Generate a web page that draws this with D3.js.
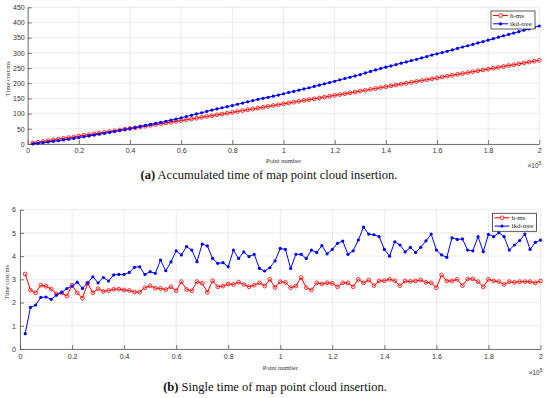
<!DOCTYPE html>
<html><head><meta charset="utf-8">
<script src="https://cdn.jsdelivr.net/npm/d3@7"></script>
<style>body{margin:0;background:#fff;} svg{display:block;}</style>
</head><body>
<svg id="c" width="550" height="398"></svg>
<script>
// Point number (x 10^5)
const pointNumber = [0.02,0.04,0.06,0.08,0.10,0.12,0.14,0.16,0.18,0.20,
0.22,0.24,0.26,0.28,0.30,0.32,0.34,0.36,0.38,0.40,
0.42,0.44,0.46,0.48,0.50,0.52,0.54,0.56,0.58,0.60,
0.62,0.64,0.66,0.68,0.70,0.72,0.74,0.76,0.78,0.80,
0.82,0.84,0.86,0.88,0.90,0.92,0.94,0.96,0.98,1.00,
1.02,1.04,1.06,1.08,1.10,1.12,1.14,1.16,1.18,1.20,
1.22,1.24,1.26,1.28,1.30,1.32,1.34,1.36,1.38,1.40,
1.42,1.44,1.46,1.48,1.50,1.52,1.54,1.56,1.58,1.60,
1.62,1.64,1.66,1.68,1.70,1.72,1.74,1.76,1.78,1.80,
1.82,1.84,1.86,1.88,1.90,1.92,1.94,1.96,1.98,2.00];

// (a) accumulated time, ms
const hmsAccum = [3.2,5.8,8.2,10.9,13.6,16.2,18.6,21.0,23.3,26.0,
28.5,30.7,33.5,35.9,38.5,41.0,43.5,46.1,48.7,51.2,
53.7,56.2,58.6,61.3,64.0,66.6,69.2,71.8,74.4,77.0,
79.9,82.4,84.9,87.8,90.7,93.1,96.0,98.7,101.4,104.2,
107.0,109.9,112.7,115.3,118.1,120.9,123.7,126.7,129.3,132.2,
135.1,137.7,140.4,143.5,146.1,148.7,151.5,154.3,157.2,160.0,
162.7,165.5,168.4,171.1,174.1,176.9,179.9,182.6,185.6,188.5,
191.5,194.4,197.2,200.1,203.0,205.9,208.9,211.8,214.6,217.3,
220.5,223.4,226.3,229.3,232.0,235.1,238.1,241.0,243.7,246.7,
249.6,252.5,255.3,258.2,261.0,263.9,266.8,269.7,272.6,275.5];
const ikdAccum = [0.7,2.5,4.3,6.6,8.8,10.9,13.3,15.7,18.3,21.0,
23.9,26.5,29.4,32.5,35.3,38.4,41.3,44.5,47.7,50.9,
54.2,57.8,61.3,64.5,67.8,71.1,74.9,78.3,82.0,86.3,
90.3,94.7,99.0,102.8,107.3,111.7,115.6,119.3,123.0,126.6,
130.8,134.7,138.9,142.9,147.0,150.4,153.8,157.3,161.1,165.4,
169.7,173.2,177.3,181.3,185.2,189.5,193.7,198.1,202.2,206.5,
211.1,215.7,219.8,224.0,228.7,234.0,238.9,243.8,248.7,253.0,
257.0,261.6,266.1,270.2,274.6,278.8,283.2,287.8,292.8,297.0,
301.1,305.0,309.8,314.5,319.3,323.5,327.8,332.6,336.8,341.7,
346.6,351.6,356.4,360.7,365.2,369.8,374.8,379.1,383.7,388.4];

// (b) single time, ms
const hmsSingle = [3.23,2.54,2.42,2.75,2.70,2.58,2.37,2.42,2.28,2.75,
2.42,2.19,2.83,2.42,2.60,2.48,2.52,2.57,2.58,2.54,
2.52,2.45,2.45,2.64,2.72,2.62,2.61,2.56,2.68,2.51,
2.90,2.56,2.51,2.90,2.83,2.44,2.94,2.68,2.71,2.80,
2.78,2.88,2.78,2.68,2.75,2.85,2.71,3.00,2.65,2.90,
2.87,2.64,2.71,3.08,2.64,2.54,2.85,2.80,2.85,2.83,
2.68,2.85,2.85,2.68,3.00,2.85,2.97,2.73,2.93,2.94,
3.00,2.94,2.73,2.93,2.91,2.93,2.97,2.87,2.85,2.64,
3.19,2.93,2.93,3.00,2.73,3.02,3.02,2.90,2.68,3.00,
2.93,2.90,2.78,2.90,2.87,2.90,2.90,2.90,2.85,2.93];
const ikdSingle = [0.66,1.79,1.89,2.22,2.24,2.14,2.32,2.44,2.60,2.71,
2.88,2.61,2.85,3.11,2.85,3.08,2.93,3.19,3.21,3.21,
3.30,3.52,3.54,3.21,3.33,3.26,3.83,3.37,3.75,4.23,
4.05,4.41,4.26,3.76,4.52,4.44,3.90,3.69,3.72,3.54,
4.26,3.90,4.18,3.98,4.08,3.47,3.36,3.50,3.80,4.33,
4.29,3.47,4.08,4.08,3.90,4.26,4.16,4.45,4.10,4.29,
4.55,4.65,4.08,4.23,4.69,5.25,4.95,4.92,4.84,4.29,
4.00,4.62,4.48,4.18,4.38,4.16,4.38,4.66,4.95,4.26,
4.05,3.95,4.79,4.72,4.74,4.26,4.23,4.84,4.19,4.94,
4.84,5.01,4.84,4.26,4.48,4.67,4.95,4.29,4.59,4.69];

const seriesNames = ["h-ms", "ikd-tree"];
const xTicks = [0,0.2,0.4,0.6,0.8,1,1.2,1.4,1.6,1.8,2];
const xTickLabels = ["0","0.2","0.4","0.6","0.8","1","1.2","1.4","1.6","1.8","2"];
const yTicksTop = [0,50,100,150,200,250,300,350,400,450];
const yTicksBottom = [0,1,2,3,4,5,6];
const yTitle = "Time cost/ms";
const xTitle = "Point number";
const captionTags = ["(a)", "(b)"];
const captionTexts = [" Accumulated time of map point cloud insertion.", " Single time of map point cloud insertion."];

const svg = d3.select("#c");
const RED = "#ff0000", BLUE = "#0000ff";
const SANS = "Liberation Sans, Arial, sans-serif";
const SERIF = "Liberation Serif, Times New Roman, serif";

function panel(cfg) {
  const x = d3.scaleLinear().domain([0, 2]).range([cfg.x0, cfg.x1]);
  const y = d3.scaleLinear().domain([0, cfg.yMax]).range([cfg.y0, cfg.y1]);
  const g = svg.append("g");

  // grid
  g.append("g").selectAll("line").data(xTicks).join("line")
    .attr("x1", d => x(d)).attr("x2", d => x(d))
    .attr("y1", cfg.y0).attr("y2", cfg.y1)
    .attr("stroke", "#e3e3e3").attr("stroke-width", 0.7);
  g.append("g").selectAll("line").data(cfg.yTicks).join("line")
    .attr("x1", cfg.x0).attr("x2", cfg.x1)
    .attr("y1", d => y(d)).attr("y2", d => y(d))
    .attr("stroke", "#e3e3e3").attr("stroke-width", 0.7);

  // axes
  const xa = g.append("g").attr("transform", `translate(0,${cfg.y0})`)
    .call(d3.axisBottom(x).tickValues(xTicks).tickFormat((d, i) => xTickLabels[i])
      .tickSizeInner(-4).tickSizeOuter(0).tickPadding(cfg.xPad));
  const ya = g.append("g").attr("transform", `translate(${cfg.x0},0)`)
    .call(d3.axisLeft(y).tickValues(cfg.yTicks).tickFormat(d3.format("d"))
      .tickSizeInner(-4).tickSizeOuter(0).tickPadding(cfg.yPad));
  [xa, ya].forEach(a => {
    a.select(".domain").attr("stroke", "#555").attr("stroke-width", 0.8);
    a.selectAll(".tick line").attr("stroke", "#555").attr("stroke-width", 0.8);
    a.selectAll("text").attr("font-family", SANS).attr("font-size", 7).attr("fill", "#333");
  });

  // titles
  g.append("text").attr("x", (cfg.x0 + cfg.x1) / 2).attr("y", cfg.y0 + cfg.xTitleDy)
    .attr("text-anchor", "middle").attr("font-family", SERIF).attr("font-size", 6.5)
    .attr("fill", "#333").text(xTitle);
  g.append("text").attr("transform", `translate(${cfg.yTitleX},${(cfg.y0 + cfg.y1) / 2 + 3}) rotate(-90)`)
    .attr("text-anchor", "middle").attr("font-family", SERIF).attr("font-size", 6.5)
    .attr("fill", "#333").text(yTitle);
  const ex = g.append("text").attr("x", cfg.x1 + 2).attr("y", cfg.y0 + cfg.xTitleDy + 5)
    .attr("text-anchor", "end").attr("font-family", SANS).attr("font-size", 6.5).attr("fill", "#333");
  ex.append("tspan").text("\u00d710");
  ex.append("tspan").attr("dy", -3).attr("font-size", 5).text("5");

  // series
  const line = d3.line().x((d, i) => x(pointNumber[i])).y(d => y(d));
  g.append("path").datum(cfg.red).attr("d", line).attr("fill", "none")
    .attr("stroke", RED).attr("stroke-width", 1);
  g.append("g").selectAll("circle").data(cfg.red).join("circle")
    .attr("cx", (d, i) => x(pointNumber[i])).attr("cy", d => y(d)).attr("r", 1.9)
    .attr("fill", "none").attr("stroke", RED).attr("stroke-width", 0.8);
  g.append("path").datum(cfg.blue).attr("d", line).attr("fill", "none")
    .attr("stroke", BLUE).attr("stroke-width", 1);
  g.append("g").selectAll("circle").data(cfg.blue).join("circle")
    .attr("cx", (d, i) => x(pointNumber[i])).attr("cy", d => y(d)).attr("r", 1.6)
    .attr("fill", BLUE);

  // legend
  const L = g.append("g").attr("transform", `translate(${cfg.legX},${cfg.legY})`);
  L.append("rect").attr("width", 44).attr("height", 18).attr("fill", "#fff")
    .attr("stroke", "#333").attr("stroke-width", 0.8);
  [[RED, seriesNames[0]], [BLUE, seriesNames[1]]].forEach(([c, name], k) => {
    const yy = 4.5 + k * 8.3;
    L.append("line").attr("x1", 2).attr("x2", 17).attr("y1", yy).attr("y2", yy)
      .attr("stroke", c).attr("stroke-width", 1);
    if (k === 0) L.append("circle").attr("cx", 9.5).attr("cy", yy).attr("r", 1.9)
      .attr("fill", "#fff").attr("stroke", c).attr("stroke-width", 0.8);
    else L.append("circle").attr("cx", 9.5).attr("cy", yy).attr("r", 1.6).attr("fill", c);
    L.append("text").attr("x", 19).attr("y", yy + 2.3).attr("font-family", SERIF)
      .attr("font-size", 7).attr("fill", "#222").text(name);
  });

  // caption
  const cap = svg.append("text").attr("x", cfg.capX).attr("y", cfg.capY)
    .attr("text-anchor", "middle").attr("font-family", SERIF).attr("font-size", 12.5).attr("fill", "#111");
  cap.append("tspan").attr("font-weight", "bold").text(cfg.tag);
  cap.append("tspan").text(cfg.caption);
}

panel({x0: 27.7, x1: 539.3, y0: 144, y1: 7.3, yMax: 450, yTicks: yTicksTop,
  xPad: 4, yPad: 3, xTitleDy: 19, yTitleX: 9.5,
  red: hmsAccum, blue: ikdAccum, legX: 491, legY: 11,
  capX: 269, capY: 179, tag: captionTags[0], caption: captionTexts[0]});

panel({x0: 20, x1: 540.5, y0: 349, y1: 209.7, yMax: 6, yTicks: yTicksBottom,
  xPad: 5, yPad: 4, xTitleDy: 21, yTitleX: 8.5,
  red: hmsSingle, blue: ikdSingle, legX: 492.5, legY: 213.3,
  capX: 275, capY: 391, tag: captionTags[1], caption: captionTexts[1]});
</script>
</body></html>
